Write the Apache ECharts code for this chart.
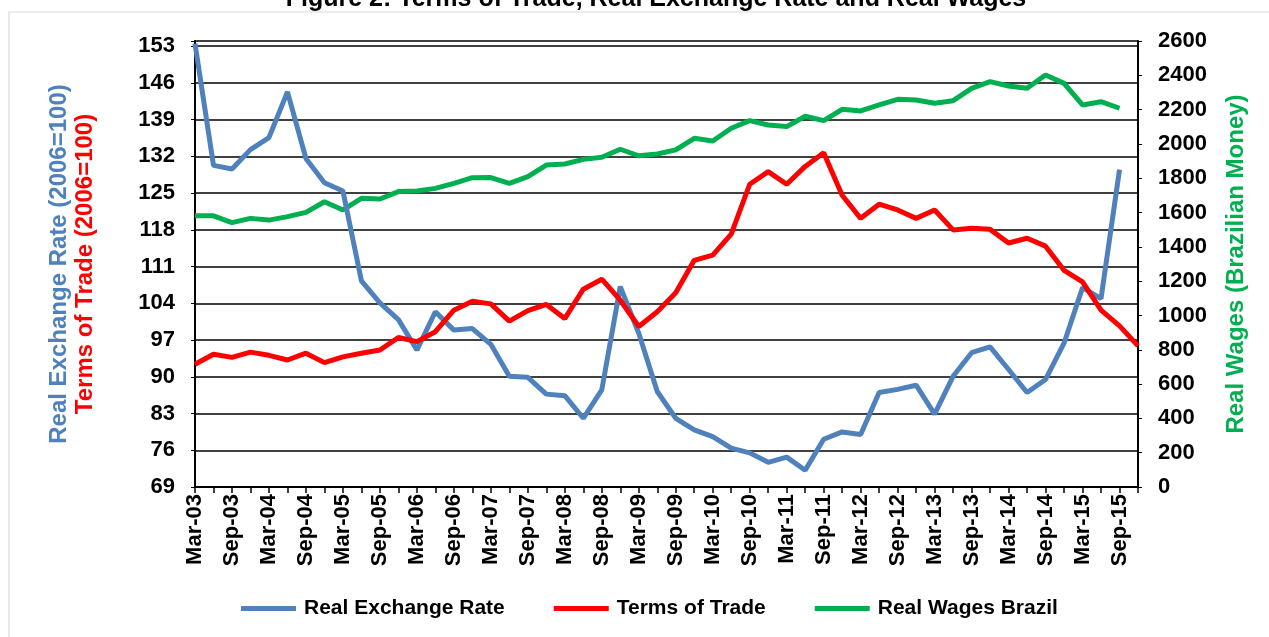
<!DOCTYPE html>
<html>
<head>
<meta charset="utf-8">
<script src="https://cdn.jsdelivr.net/npm/echarts@6/dist/echarts.min.js"></script>
<style>
html,body{margin:0;padding:0;background:#fff;}
#chart{width:1269px;height:637px;}
</style>
</head>
<body>
<div id="chart"></div>
<script>
// Quarterly categories Mar-03 .. Dec-15
const quarterMonths = ['Mar', 'Jun', 'Sep', 'Dec'];
const years = ['03','04','05','06','07','08','09','10','11','12','13','14','15'];
const categories = [];
years.forEach(y => quarterMonths.forEach(m => categories.push(m + '-' + y)));

// Real Exchange Rate (2006=100), left axis
const realExchangeRate = [
  153.5, 130.3, 129.6, 133.3, 135.6, 144.3, 131.6, 127.0, 125.4, 108.3,
  104.1, 100.9, 95.1, 102.4, 98.9, 99.2, 96.2, 90.1, 89.9, 86.7,
  86.4, 82.1, 87.5, 107.2, 98.3, 87.2, 82.1, 79.9, 78.6, 76.4,
  75.5, 73.7, 74.7, 72.2, 78.1, 79.5, 79.0, 87.0, 87.6, 88.4,
  82.9, 90.1, 94.6, 95.7, 91.4, 87.0, 89.5, 96.4, 107.0, 104.9,
  129.5, null
];

// Terms of Trade (2006=100), left axis
const termsOfTrade = [
  92.4, 94.3, 93.7, 94.7, 94.1, 93.2, 94.5, 92.7, 93.8, 94.5,
  95.1, 97.5, 96.7, 98.6, 102.7, 104.4, 103.9, 100.6, 102.6, 103.8,
  101.1, 106.7, 108.6, 104.6, 99.6, 102.4, 106.0, 112.2, 113.2, 117.2,
  126.7, 129.1, 126.7, 130.1, 132.7, 124.6, 120.2, 122.9, 121.8, 120.2,
  121.8, 118.0, 118.3, 118.1, 115.5, 116.4, 114.9, 110.3, 108.1, 102.7,
  99.7, 95.9
];

// Real Wages Brazil (Brazilian money), right axis
const realWages = [
  1581, 1581, 1541, 1566, 1556, 1576, 1601, 1663, 1615, 1683,
  1679, 1722, 1726, 1741, 1770, 1803, 1804, 1770, 1809, 1877,
  1883, 1910, 1922, 1969, 1931, 1941, 1965, 2033, 2017, 2091,
  2136, 2110, 2101, 2161, 2136, 2202, 2192, 2227, 2260, 2256,
  2237, 2252, 2324, 2363, 2338, 2324, 2402, 2353, 2227, 2246,
  2208, null
];

const leftMin = 69, leftMax = 154, leftStep = 7;
const rightMin = 0, rightMax = 2600, rightStep = 200;

const FONT = "'Liberation Sans', Arial, sans-serif";
const chart = echarts.init(document.getElementById('chart'));

chart.setOption({
  animation: false,
  backgroundColor: '#fff',
  graphic: [{
    type: 'rect',
    shape: { x: 9, y: 12, width: 1300, height: 700 },
    style: { fill: 'none', stroke: '#d9d9d9', lineWidth: 1.2 },
    z: -10
  }],
  title: {
    text: 'Figure 2: Terms of Trade, Real Exchange Rate and Real Wages',
    left: 651, textAlign: 'center', top: -18,
    textStyle: { fontFamily: FONT, fontWeight: 'bold', fontSize: 25, color: '#000' }
  },
  grid: { left: 195, right: 131, top: 41, bottom: 150, containLabel: false },
  legend: {
    bottom: 13,
    left: 236,
    icon: 'rect',
    itemWidth: 55, itemHeight: 5, itemGap: 49,
    textStyle: { fontFamily: FONT, fontWeight: 'bold', fontSize: 21, color: '#000', padding: [0, 0, 0, 3] },
    data: ['Real Exchange Rate', 'Terms of Trade', 'Real Wages Brazil']
  },
  xAxis: {
    type: 'category',
    data: categories,
    boundaryGap: false,
    axisLine: { lineStyle: { color: '#000', width: 2 } },
    axisTick: { show: true, interval: 0, length: 6, lineStyle: { color: '#000', width: 1.5 } },
    axisLabel: {
      interval: 1, rotate: 90, margin: 7,
      fontFamily: FONT, fontWeight: 'bold', fontSize: 22, color: '#000'
    },
    splitLine: { show: false }
  },
  yAxis: [{
    type: 'value',
    min: leftMin, max: leftMax, interval: leftStep,
    position: 'left',
    name: '{b|Real Exchange Rate (2006=100)}\n{r|Terms of Trade (2006=100)}',
    nameLocation: 'middle', nameRotate: 90, nameGap: 97,
    nameTextStyle: {
      rich: {
        b: { fontFamily: FONT, fontWeight: 'bold', fontSize: 24, color: '#4F81BD', lineHeight: 26 },
        r: { fontFamily: FONT, fontWeight: 'bold', fontSize: 24, color: '#FF0000', lineHeight: 26 }
      }
    },
    axisLine: { show: true, lineStyle: { color: '#000', width: 2 } },
    axisTick: { show: true, length: 4, lineStyle: { color: '#000' } },
    axisLabel: {
      margin: 20,
      fontFamily: FONT, fontWeight: 'bold', fontSize: 22, color: '#000',
      formatter: v => ((v - leftMin) % leftStep === 0 ? String(v) : '')
    },
    splitLine: { show: true, lineStyle: { color: '#000', width: 1.5 } }
  }, {
    type: 'value',
    min: rightMin, max: rightMax, interval: rightStep,
    position: 'right',
    name: 'Real Wages (Brazilian Money)',
    nameLocation: 'middle', nameRotate: 90, nameGap: 86,
    nameTextStyle: { fontFamily: FONT, fontWeight: 'bold', fontSize: 24, color: '#00B050' },
    axisLine: { show: true, lineStyle: { color: '#000', width: 2 } },
    axisTick: { show: true, length: 4, lineStyle: { color: '#000' } },
    axisLabel: {
      margin: 20, fontFamily: FONT, fontWeight: 'bold', fontSize: 22, color: '#000',
      formatter: v => String(v)
    },
    splitLine: { show: false }
  }],
  series: [{
    name: 'Real Exchange Rate', type: 'line', yAxisIndex: 0,
    data: realExchangeRate, symbol: 'none',
    lineStyle: { color: '#4F81BD', width: 5 }, itemStyle: { color: '#4F81BD' }, z: 3
  }, {
    name: 'Terms of Trade', type: 'line', yAxisIndex: 0,
    data: termsOfTrade, symbol: 'none',
    lineStyle: { color: '#FF0000', width: 5 }, itemStyle: { color: '#FF0000' }, z: 4
  }, {
    name: 'Real Wages Brazil', type: 'line', yAxisIndex: 1,
    data: realWages, symbol: 'none',
    lineStyle: { color: '#00B050', width: 5 }, itemStyle: { color: '#00B050' }, z: 2
  }]
});
</script>
</body>
</html>
